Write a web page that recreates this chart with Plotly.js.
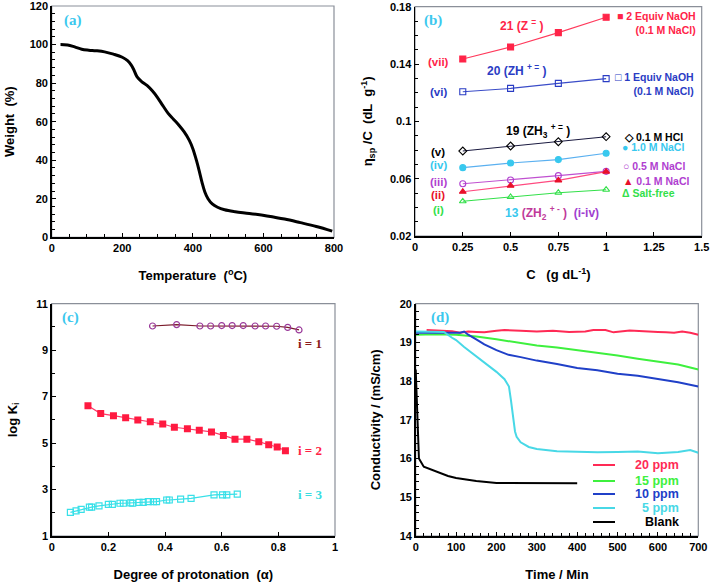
<!DOCTYPE html>
<html><head><meta charset="utf-8">
<script src="https://cdn.plot.ly/plotly-3.0.1.min.js"></script>
<style>html,body{margin:0;padding:0;background:#fff}</style>
</head><body><div id="chart" style="width:710px;height:584px"></div>
<script>
// ---------- Panel (a): TGA ----------
const tgaTemp   = [25, 45, 65, 85, 105, 125, 150, 175, 200, 215, 225, 233, 242, 255, 270, 285, 300, 315, 330, 345, 360, 375, 390, 400, 410, 418, 426, 434, 443, 455, 470, 490, 520, 560, 610, 660, 705, 750, 795];
const tgaWeight = [100, 99.8, 98.8, 97.6, 97.1, 96.8, 96.2, 95.0, 93.4, 91.6, 89.5, 86.8, 83.2, 80.8, 78.8, 76.0, 72.5, 68.3, 64.3, 61.3, 58.3, 54.8, 50.3, 46.0, 40.0, 34.5, 28.5, 23.5, 20.0, 17.3, 15.6, 14.3, 13.3, 12.4, 11.1, 9.5, 7.6, 5.6, 3.2];

// ---------- Panel (b): reduced viscosity ----------
const concC = [0.25, 0.5, 0.75, 1.0];
const visc_vii = [0.1435, 0.1519, 0.1619, 0.1726];
const visc_vi  = [0.1207, 0.1230, 0.1265, 0.1298];
const visc_v   = [0.0793, 0.0828, 0.0858, 0.0893];
const visc_iv  = [0.0677, 0.0709, 0.0733, 0.0777];
const visc_iii = [0.0565, 0.0591, 0.0621, 0.0651];
const visc_ii  = [0.0509, 0.0551, 0.0588, 0.0649];
const visc_i   = [0.0442, 0.0472, 0.0502, 0.0523];

// ---------- Panel (c): log K vs alpha ----------
const alpha1 = [0.356, 0.441, 0.523, 0.561, 0.600, 0.637, 0.676, 0.718, 0.755, 0.794, 0.833, 0.873];
const logK1  = [10.04, 10.10, 10.04, 10.04, 10.06, 10.06, 10.06, 10.04, 10.04, 10.03, 9.98, 9.87];
const alpha2 = [0.128, 0.173, 0.218, 0.261, 0.304, 0.348, 0.392, 0.433, 0.479, 0.521, 0.564, 0.606, 0.647, 0.689, 0.731, 0.766, 0.796, 0.825];
const logK2  = [6.61, 6.27, 6.18, 6.09, 5.99, 5.92, 5.82, 5.68, 5.62, 5.55, 5.48, 5.33, 5.17, 5.17, 5.06, 4.93, 4.83, 4.67];
const alpha3 = [0.066, 0.086, 0.104, 0.133, 0.141, 0.167, 0.200, 0.214, 0.241, 0.253, 0.279, 0.286, 0.308, 0.323, 0.341, 0.359, 0.370, 0.406, 0.415, 0.455, 0.492, 0.573, 0.603, 0.618, 0.655];
const logK3  = [2.02, 2.08, 2.15, 2.24, 2.24, 2.30, 2.36, 2.36, 2.41, 2.41, 2.43, 2.41, 2.45, 2.45, 2.48, 2.48, 2.48, 2.55, 2.55, 2.59, 2.62, 2.77, 2.77, 2.77, 2.80];

// ---------- Panel (d): conductivity vs time ----------
const t20 = [27, 60, 90, 110, 130, 150, 170, 200, 220, 260, 300, 340, 380, 420, 440, 470, 490, 530, 560, 600, 620, 640, 660, 680, 700];
const c20 = [19.32, 19.31, 19.29, 19.25, 19.28, 19.27, 19.26, 19.30, 19.32, 19.30, 19.28, 19.30, 19.27, 19.28, 19.32, 19.32, 19.26, 19.31, 19.30, 19.27, 19.26, 19.25, 19.28, 19.25, 19.20];
const t15 = [0, 50, 100, 150, 200, 250, 300, 350, 400, 450, 500, 550, 600, 650, 700];
const c15 = [19.20, 19.21, 19.20, 19.15, 19.08, 19.00, 18.92, 18.87, 18.80, 18.74, 18.66, 18.58, 18.50, 18.43, 18.30];
const t10 = [0, 50, 100, 110, 120, 130, 150, 170, 200, 230, 260, 300, 350, 400, 450, 500, 550, 600, 650, 700];
const c10 = [19.25, 19.25, 19.26, 19.25, 19.28, 19.20, 19.08, 18.95, 18.80, 18.68, 18.62, 18.53, 18.44, 18.34, 18.28, 18.19, 18.14, 18.05, 17.97, 17.86];
const t5 = [0, 50, 70, 90, 100, 120, 150, 180, 200, 220, 231, 236, 242, 246, 250, 260, 280, 300, 350, 400, 450, 500, 550, 600, 650, 680, 700];
const c5 = [19.28, 19.28, 19.27, 19.12, 19.06, 18.88, 18.64, 18.40, 18.24, 18.05, 17.86, 17.50, 17.03, 16.70, 16.56, 16.42, 16.30, 16.25, 16.19, 16.18, 16.16, 16.17, 16.18, 16.14, 16.17, 16.22, 16.15];
const tBlank = [0, 3, 8, 20, 50, 80, 100, 150, 200, 300, 400];
const cBlank = [18.3, 17.2, 16.0, 15.79, 15.68, 15.55, 15.50, 15.42, 15.37, 15.36, 15.36];

const legendD = ['20 ppm', '15 ppm', '10 ppm', '5 ppm', 'Blank'];

// ---------- helpers ----------
const W = 710, H = 584;
const px = x => x / W;
const py = y => 1 - y / H;
const FONT = 'Liberation Sans, Arial, sans-serif';
const SERIF = 'Liberation Serif, Times New Roman, serif';
const tickF = {family: FONT, size: 11, color: '#000', weight: 'bold'};
const titleF = {family: FONT, size: 13, color: '#000', weight: 'bold'};

const RED = '#ff2448', BLUE = '#2a3cc4', CYAN = '#38c8ee', PURPLE = '#b040d0', GREEN = '#33e04a';

function axis(domain, range, dtick, minorDtick, title, standoff, anchor, extra) {
  return Object.assign({
    domain: domain, range: range, dtick: dtick, tick0: range[0],
    ticks: 'inside', ticklen: 4, tickwidth: 1, tickcolor: '#000',
    showline: true, linecolor: '#000', linewidth: 1.5, mirror: false,
    showgrid: false, zeroline: false, automargin: false,
    ticklabeloverflow: 'allow',
    tickfont: tickF, anchor: anchor,
    minor: minorDtick ? {dtick: minorDtick, ticks: 'inside', ticklen: 3, tickcolor: '#000', showgrid: false} : undefined,
    title: {text: title, font: titleF, standoff: standoff}
  }, extra || {});
}

const traces = [];
// (a)
traces.push({x: tgaTemp, y: tgaWeight, xaxis: 'x', yaxis: 'y', mode: 'lines', line: {color: '#000', width: 3, shape: 'spline'}, showlegend: false});
// (b)
const bSeries = [
  {y: visc_vii, c: RED, sym: 'square', lc: '#ff3a5c'},
  {y: visc_vi, c: BLUE, sym: 'square-open', lc: '#3a4cc8'},
  {y: visc_v, c: '#000', sym: 'diamond-open', lc: '#1a1a40'},
  {y: visc_iv, c: CYAN, sym: 'circle', lc: '#5ab0f0'},
  {y: visc_iii, c: PURPLE, sym: 'circle-open', lc: '#c050d0'},
  {y: visc_ii, c: '#e8102a', sym: 'triangle-up', lc: '#ff4a80'},
  {y: visc_i, c: GREEN, sym: 'triangle-up-open', lc: GREEN}
];
bSeries.forEach(s => traces.push({x: concC, y: s.y, xaxis: 'x2', yaxis: 'y2', mode: 'lines+markers',
  line: {color: s.lc, width: 1.1}, marker: {symbol: s.sym, size: 6, color: s.c, line: {color: s.c, width: 1.1}}, showlegend: false}));
// (c)
traces.push({x: alpha1, y: logK1, xaxis: 'x3', yaxis: 'y3', mode: 'lines+markers', line: {color: '#7a1a2a', width: 1.2},
  marker: {symbol: 'circle-open', size: 6, color: '#9a3a9a', line: {width: 1.2, color: '#9a3a9a'}}, showlegend: false});
traces.push({x: alpha2, y: logK2, xaxis: 'x3', yaxis: 'y3', mode: 'lines+markers', line: {color: '#ff3a6a', width: 1.2},
  marker: {symbol: 'square', size: 7, color: '#ff1a40'}, showlegend: false});
traces.push({x: alpha3, y: logK3, xaxis: 'x3', yaxis: 'y3', mode: 'lines+markers', line: {color: '#38e0e8', width: 1.2},
  marker: {symbol: 'square-open', size: 6, color: '#38e0e8', line: {width: 1.2, color: '#38e0e8'}}, showlegend: false});
// (d)
const dCols = ['#ff2a55', '#3ef03e', '#2040c8', '#48d8e6', '#000'];
const dX = [t20, t15, t10, t5, tBlank], dY = [c20, c15, c10, c5, cBlank];
for (let i = 0; i < 5; i++) {
  traces.push({x: dX[i], y: dY[i], xaxis: 'x4', yaxis: 'y4', mode: 'lines', name: legendD[i],
    line: {color: dCols[i], width: 2}, showlegend: false});
}

const ann = [];
function label(text, x, y, xref, yref, font, opts) {
  ann.push(Object.assign({text: text, x: x, y: y, xref: xref, yref: yref, showarrow: false, font: font,
    xanchor: 'center', yanchor: 'middle'}, opts || {}));
}
const panelF = {family: SERIF, size: 15, color: '#3cc8ee', weight: 'bold'};
label('(a)', px(73), py(21), 'paper', 'paper', panelF);
label('(b)', px(433), py(21), 'paper', 'paper', panelF);
label('(c)', px(70), py(317), 'paper', 'paper', panelF);
label('(d)', px(440), py(317), 'paper', 'paper', panelF);

// panel b labels
const bF = (c, s) => ({family: FONT, size: s || 11, color: c, weight: 'bold'});
label('21 (Z <sup>=</sup> )', 0.558, 0.167, 'x2', 'y2', bF(RED, 12));
label('20 (ZH <sup>+ =</sup> )', 0.532, 0.1357, 'x2', 'y2', bF(BLUE, 12));
label('19 (ZH<sub>3</sub> <sup>+ =</sup> )', 0.645, 0.0935, 'x2', 'y2', bF('#000', 12));
label('<span style="color:#38c8ee">13</span> <span style="color:#c03a9a">(ZH<sub>2</sub> <sup>+ -</sup> )</span>  <span style="color:#a040d0">(i-iv)</span>', 0.715, 0.0358, 'x2', 'y2', bF('#000', 12));
const romans = ['(vii)', '(vi)', '(v)', '(iv)', '(iii)', '(ii)', '(i)'];
const romanY = [0.1416, 0.1207, 0.0788, 0.0695, 0.0578, 0.0486, 0.0381];
const romanC = [RED, BLUE, '#000', CYAN, PURPLE, '#e8102a', GREEN];
romans.forEach((r, i) => label(r, 0.122, romanY[i], 'x2', 'y2', bF(romanC[i], 11.5)));
const lf = c => bF(c, 10.5);
label('■ 2 Equiv NaOH<br>(0.1 M NaCl)', 1.262, 0.1683, 'x2', 'y2', lf(RED), {align: 'right'});
label('□ 1 Equiv NaOH<br>(0.1 M NaCl)', 1.255, 0.1262, 'x2', 'y2', lf(BLUE), {align: 'right'});
label('◇ 0.1 M HCl', 1.085, 0.0893, 'x2', 'y2', lf('#000'), {xanchor: 'left'});
label('● 1.0 M NaCl', 1.075, 0.0821, 'x2', 'y2', lf(CYAN), {xanchor: 'left'});
label('○ 0.5 M NaCl', 1.08, 0.0691, 'x2', 'y2', lf(PURPLE), {xanchor: 'left'});
label('<span style="color:#e8102a">▲</span> 0.1 M NaCl', 1.08, 0.0586, 'x2', 'y2', lf(PURPLE), {xanchor: 'left'});
label('Δ Salt-free', 1.075, 0.0502, 'x2', 'y2', lf(GREEN), {xanchor: 'left'});

// panel c labels
const cF = c => ({family: SERIF, size: 13, color: c, weight: 'bold'});
label('i = 1', 0.912, 9.27, 'x3', 'y3', cF('#8b1a1a'));
label('i = 2', 0.912, 4.66, 'x3', 'y3', cF('#ff2244'));
label('i = 3', 0.912, 2.80, 'x3', 'y3', cF('#38dde0'));

// panel d legend
const legY = [465, 481, 494, 508, 522];
const shapes = [];
const frames = [['x', 'y'], ['x2', 'y2'], ['x3', 'y3'], ['x4', 'y4']];
frames.forEach(f => shapes.push({type: 'rect', xref: f[0] + ' domain', yref: f[1] + ' domain', x0: 0, x1: 1, y0: 0, y1: 1,
  line: {color: '#8a8f99', width: 1.2}, layer: 'below'}));
legendD.forEach((n, i) => {
  shapes.push({type: 'line', xref: 'paper', yref: 'paper', x0: px(593), x1: px(615), y0: py(legY[i]), y1: py(legY[i]),
    line: {color: dCols[i], width: 2}});
  label(n, px(681), py(legY[i]), 'paper', 'paper', {family: FONT, size: 12.5, color: dCols[i], weight: 'bold'}, {xanchor: 'right'});
});

const layout = {
  width: W, height: H, margin: {l: 0, r: 0, t: 0, b: 0},
  paper_bgcolor: '#fff', plot_bgcolor: 'rgba(0,0,0,0)', showlegend: false,
  font: {family: FONT},
  xaxis: axis([px(51.7), px(334)], [0, 800], 200, 50, 'Temperature  (<sup>o</sup>C)', 18, 'y'),
  yaxis: axis([py(237.3), py(6)], [0, 120], 20, 4, 'Weight  (%)', 12, 'x'),
  xaxis2: axis([px(415), px(701.7)], [0, 1.5], 0.25, null, 'C   (g dL<sup>-1</sup>)', 18, 'y2'),
  yaxis2: axis([py(236), py(6.7)], [0.02, 0.18], 0.04, 0.01, 'η<sub>sp</sub> /C  (dL  g<sup>-1</sup>)', 14, 'x2'),
  xaxis3: axis([px(51.7), px(335)], [0, 1], 0.2, null, 'Degree of protonation  (α)', 18, 'y3'),
  yaxis3: axis([py(536), py(303.7)], [1, 11], 2, 1, 'log K<sub>i</sub>', 16, 'x3'),
  xaxis4: axis([px(415.7), px(698.3)], [0, 700], 100, 20, 'Time / Min', 18, 'y4'),
  yaxis4: axis([py(536), py(303.7)], [14, 20], 1, 0.2, 'Conductivity / (mS/cm)', 16, 'x4'),
  annotations: ann, shapes: shapes
};
Plotly.newPlot('chart', traces, layout, {staticPlot: true, displayModeBar: false});
</script></body></html>
